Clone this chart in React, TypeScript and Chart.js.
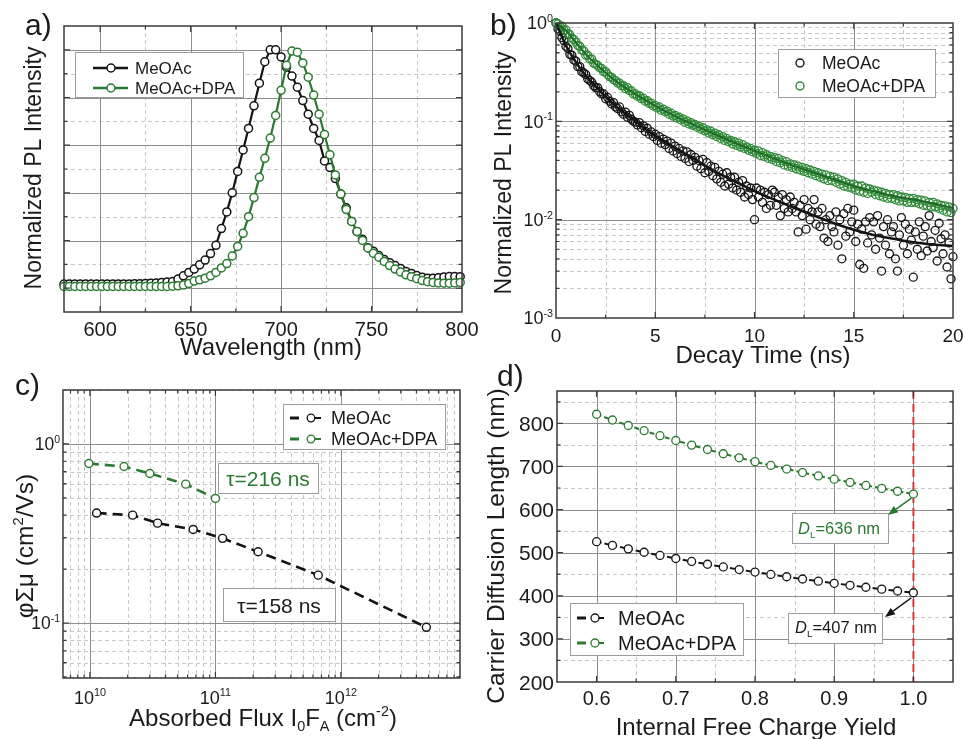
import React, { useEffect, useRef } from 'react';
import { Chart, registerables } from 'chart.js';

Chart.register(...registerables);

// ---------------- data ----------------
// a) PL spectra
const wavelengthNm = [580, 583, 586, 589, 592, 595, 598, 601, 604, 607, 610, 613, 616, 619, 622, 625, 628, 631, 634, 637,
  640, 643, 646, 649, 652, 655, 658, 661, 664, 667, 670, 673, 676, 679, 682, 685, 688, 691, 694, 697,
  700, 703, 706, 709, 712, 715, 718, 721, 724, 727, 730, 733, 736, 739, 742, 745, 748, 751, 754, 757,
  760, 763, 766, 769, 772, 775, 778, 781, 784, 787, 790, 793, 796, 799];
const plMeOAc = [0.017, 0.017, 0.018, 0.017, 0.017, 0.017, 0.017, 0.017, 0.017, 0.017, 0.018, 0.018, 0.018, 0.019, 0.019, 0.020, 0.021, 0.022, 0.024, 0.026,
  0.028, 0.038, 0.052, 0.066, 0.080, 0.098, 0.118, 0.145, 0.180, 0.250, 0.320, 0.400, 0.490, 0.580, 0.670, 0.765, 0.860, 0.950, 1.000, 1.000,
  0.970, 0.927, 0.890, 0.843, 0.787, 0.730, 0.670, 0.620, 0.534, 0.506, 0.460, 0.395, 0.337, 0.280, 0.237, 0.205, 0.170, 0.155, 0.137, 0.120,
  0.107, 0.095, 0.083, 0.070, 0.062, 0.053, 0.046, 0.042, 0.042, 0.044, 0.047, 0.049, 0.049, 0.048];
const plMeOAcDPA = [0.007, 0.007, 0.007, 0.007, 0.007, 0.007, 0.007, 0.007, 0.007, 0.007, 0.007, 0.007, 0.007, 0.007, 0.007, 0.007, 0.007, 0.007, 0.007, 0.007,
  0.008, 0.010, 0.013, 0.020, 0.030, 0.035, 0.042, 0.052, 0.066, 0.085, 0.103, 0.135, 0.175, 0.230, 0.300, 0.380, 0.465, 0.545, 0.630, 0.725,
  0.830, 0.935, 0.995, 0.990, 0.945, 0.885, 0.810, 0.730, 0.645, 0.560, 0.475, 0.395, 0.330, 0.280, 0.238, 0.200, 0.169, 0.147, 0.130, 0.112,
  0.095, 0.080, 0.068, 0.056, 0.048, 0.040, 0.032, 0.027, 0.024, 0.022, 0.021, 0.021, 0.022, 0.024];

// b) PL decay (time base 0 .. 20 ns, 0.1 ns per channel)
const decayTimeStepNs = 0.1;
const decayMeOAc = [
  1.0, 0.87, 0.82, 0.71, 0.66, 0.58, 0.55, 0.48, 0.47, 0.42,
  0.41, 0.36, 0.36, 0.32, 0.31, 0.30, 0.27, 0.26, 0.25, 0.23,
  0.22, 0.22, 0.20, 0.19, 0.19, 0.17, 0.175, 0.16, 0.15, 0.155,
  0.14, 0.135, 0.14, 0.125, 0.118, 0.124, 0.11, 0.115, 0.105, 0.10,
  0.098, 0.092, 0.097, 0.086, 0.090, 0.079, 0.085, 0.074, 0.078, 0.070,
  0.074, 0.064, 0.070, 0.060, 0.066, 0.058, 0.063, 0.053, 0.060, 0.050,
  0.056, 0.047, 0.053, 0.044, 0.050, 0.042, 0.049, 0.039, 0.046, 0.040,
  0.043, 0.035, 0.040, 0.033, 0.041, 0.030, 0.038, 0.031, 0.035, 0.028,
  0.034, 0.026, 0.031, 0.024, 0.029, 0.022, 0.030, 0.023, 0.027, 0.021,
  0.027, 0.020, 0.024, 0.019, 0.025, 0.017, 0.022, 0.018, 0.021, 0.016,
  0.010, 0.021, 0.017, 0.020, 0.015, 0.019, 0.013, 0.018, 0.014, 0.020,
  0.019, 0.014, 0.017, 0.011, 0.018, 0.013, 0.016, 0.012, 0.017, 0.013,
  0.015, 0.012, 0.0075, 0.014, 0.011, 0.016, 0.0080, 0.013, 0.010, 0.012,
  0.016, 0.0090, 0.012, 0.0085, 0.013, 0.0065, 0.010, 0.0060, 0.011, 0.0085,
  0.0075, 0.012, 0.0055, 0.010, 0.0040, 0.0115, 0.0068, 0.013, 0.0075, 0.0095,
  0.0125, 0.0060, 0.0090, 0.0035, 0.0080, 0.0032, 0.0095, 0.0058, 0.0105, 0.0070,
  0.0095, 0.0050, 0.0110, 0.0065, 0.0030, 0.0085, 0.0055, 0.0100, 0.0045, 0.0075,
  0.0085, 0.0040, 0.0030, 0.0070, 0.0105, 0.0055, 0.0090, 0.0045, 0.0080, 0.0062,
  0.0026, 0.0075, 0.0050, 0.0095, 0.0043, 0.0068, 0.0085, 0.0048, 0.0110, 0.0060,
  0.0052, 0.0078, 0.0038, 0.0092, 0.0064, 0.0045, 0.0070, 0.0033, 0.0058, 0.0025,
  0.0042];
const decayMeOAcDPA = [
  1.0, 0.98, 0.92, 0.93, 0.85, 0.85, 0.78, 0.76, 0.70, 0.68,
  0.64, 0.59, 0.58, 0.53, 0.52, 0.47, 0.47, 0.43, 0.43, 0.39,
  0.38, 0.37, 0.35, 0.345, 0.32, 0.32, 0.30, 0.285, 0.28, 0.265,
  0.26, 0.245, 0.245, 0.23, 0.23, 0.215, 0.22, 0.205, 0.205, 0.19,
  0.19, 0.18, 0.182, 0.17, 0.172, 0.16, 0.162, 0.152, 0.153, 0.143,
  0.145, 0.137, 0.14, 0.13, 0.133, 0.125, 0.127, 0.118, 0.121, 0.113,
  0.115, 0.108, 0.11, 0.103, 0.106, 0.098, 0.101, 0.094, 0.097, 0.091,
  0.093, 0.087, 0.089, 0.083, 0.086, 0.080, 0.082, 0.076, 0.079, 0.073,
  0.076, 0.070, 0.073, 0.067, 0.070, 0.064, 0.067, 0.062, 0.064, 0.059,
  0.062, 0.057, 0.060, 0.055, 0.058, 0.053, 0.055, 0.051, 0.053, 0.049,
  0.051, 0.047, 0.050, 0.045, 0.048, 0.044, 0.046, 0.042, 0.044, 0.041,
  0.043, 0.039, 0.042, 0.038, 0.040, 0.036, 0.039, 0.035, 0.037, 0.034,
  0.036, 0.033, 0.035, 0.032, 0.034, 0.031, 0.033, 0.030, 0.032, 0.029,
  0.031, 0.028, 0.030, 0.027, 0.029, 0.026, 0.0285, 0.025, 0.0275, 0.025,
  0.027, 0.024, 0.026, 0.023, 0.025, 0.022, 0.024, 0.0215, 0.023, 0.021,
  0.023, 0.020, 0.022, 0.0195, 0.022, 0.019, 0.021, 0.0185, 0.0205, 0.019,
  0.020, 0.018, 0.0195, 0.0175, 0.019, 0.017, 0.0185, 0.0165, 0.018, 0.0165,
  0.018, 0.016, 0.0175, 0.0155, 0.017, 0.0155, 0.0168, 0.015, 0.0165, 0.015,
  0.0165, 0.015, 0.016, 0.0145, 0.0158, 0.014, 0.0155, 0.0138, 0.015, 0.0135,
  0.015, 0.0135, 0.0145, 0.013, 0.014, 0.0125, 0.0138, 0.012, 0.0135, 0.0118,
  0.013];
const fitTimeNs = [0, 0.5, 1, 1.5, 2, 3, 4, 5, 6, 7, 8, 9, 10, 11, 12, 13, 14, 15, 16, 17, 18, 19, 20];
const fitMeOAc = [1.0, 0.59, 0.40, 0.29, 0.226, 0.143, 0.100, 0.071, 0.054, 0.041, 0.031, 0.0246, 0.0195, 0.016, 0.0132, 0.011, 0.0092, 0.0079, 0.0070, 0.0064, 0.0059, 0.0056, 0.0054];
const fitMeOAcDPA = [1.0, 0.84, 0.635, 0.483, 0.382, 0.258, 0.189, 0.1435, 0.113, 0.091, 0.074, 0.0605, 0.050, 0.0417, 0.035, 0.030, 0.0257, 0.022, 0.0195, 0.0173, 0.016, 0.0146, 0.0132];

// c) mobility vs absorbed flux
const fluxMeOAc = [1.13e10, 2.19e10, 3.46e10, 6.65e10, 1.14e11, 2.19e11, 6.6e11, 4.8e12];
const mobilityMeOAc = [0.411, 0.40, 0.361, 0.333, 0.297, 0.25, 0.185, 0.0946];
const fluxMeOAcDPA = [9.8e9, 1.87e10, 3.0e10, 5.8e10, 1.0e11];
const mobilityMeOAcDPA = [0.777, 0.748, 0.684, 0.596, 0.496];

// d) diffusion length vs free charge yield
const chargeYield = [0.60, 0.62, 0.64, 0.66, 0.68, 0.70, 0.72, 0.74, 0.76, 0.78, 0.80, 0.82, 0.84, 0.86, 0.88, 0.90, 0.92, 0.94, 0.96, 0.98, 1.00];
const diffLenMeOAc = [525.4, 516.9, 508.8, 501.0, 493.6, 486.5, 479.7, 473.1, 466.9, 460.8, 455.0, 449.5, 444.1, 438.9, 433.9, 429.0, 424.3, 419.8, 415.4, 411.1, 407.0];
const diffLenMeOAcDPA = [821.1, 807.7, 795.0, 782.9, 771.3, 760.2, 749.5, 739.3, 729.5, 720.1, 711.1, 702.3, 693.9, 685.8, 678.0, 670.4, 663.1, 656.0, 649.1, 642.5, 636.0];

// tick labels
const ticksAx = [600, 650, 700, 750, 800];
const ticksBx = [0, 5, 10, 15, 20];
const ticksBy = [0, -1, -2, -3];
const ticksCx = [10, 11, 12];
const ticksCy = [0, -1];
const ticksDx = [0.6, 0.7, 0.8, 0.9, 1.0];
const ticksDy = [200, 300, 400, 500, 600, 700, 800];

// ---------------- styling helpers ----------------
const FONT = '"Liberation Sans", Arial, Helvetica, sans-serif';
const TEXT = '#1b1b1b';
const BLACK = '#141414';
const GREEN = '#2a7a30';
const MAJOR = '#8e8e8e';
const MINOR = '#c8c8c8';
const BORDER = '#3a3a3a';

type Seg = { t: string; s?: 'sub' | 'sup'; i?: boolean };
const segFont = (g: Seg, size: number) => `${g.i ? 'italic ' : ''}${g.s ? size * 0.6 : size}px ${FONT}`;
const txt = (t: string): Seg[] => [{ t }];
const pow10 = (e: number): Seg[] => [{ t: '10' }, { t: String(e), s: 'sup' }];

function richWidth(ctx: any, segs: Seg[], size: number) {
  let w = 0;
  for (const g of segs) { ctx.font = segFont(g, size); w += ctx.measureText(g.t).width; }
  return w;
}
function drawRich(ctx: any, segs: Seg[], x: number, y: number, size: number, color: string, align = 'center', rot = 0) {
  ctx.save();
  ctx.translate(x, y);
  if (rot) ctx.rotate(rot);
  const w = richWidth(ctx, segs, size);
  let cx = align === 'center' ? -w / 2 : align === 'right' ? -w : 0;
  ctx.fillStyle = color;
  ctx.textAlign = 'left';
  ctx.textBaseline = 'alphabetic';
  const base = size * 0.36;
  for (const g of segs) {
    ctx.font = segFont(g, size);
    const dy = g.s === 'sup' ? -size * 0.42 : g.s === 'sub' ? size * 0.24 : 0;
    ctx.fillText(g.t, cx, base + dy);
    cx += ctx.measureText(g.t).width;
  }
  ctx.restore();
}
function circle(ctx: any, x: number, y: number, r: number, stroke: string, fill: string | null, lw: number) {
  ctx.save();
  ctx.beginPath();
  ctx.arc(x, y, r, 0, Math.PI * 2);
  if (fill) { ctx.fillStyle = fill; ctx.fill(); }
  ctx.lineWidth = lw; ctx.strokeStyle = stroke; ctx.stroke();
  ctx.restore();
}
function seg(ctx: any, x0: number, y0: number, x1: number, y1: number, color: string, lw: number) {
  ctx.save();
  ctx.beginPath(); ctx.moveTo(x0, y0); ctx.lineTo(x1, y1);
  ctx.strokeStyle = color; ctx.lineWidth = lw; ctx.stroke();
  ctx.restore();
}
function frame(ctx: any, x: number, y: number, w: number, h: number) {
  ctx.save();
  ctx.fillStyle = '#ffffff'; ctx.fillRect(x, y, w, h);
  ctx.strokeStyle = '#9c9c9c'; ctx.lineWidth = 1; ctx.strokeRect(x + 0.5, y + 0.5, w, h);
  ctx.restore();
}
function arrow(ctx: any, x0: number, y0: number, x1: number, y1: number, color: string) {
  const a = Math.atan2(y1 - y0, x1 - x0);
  const L = 10, W = 4;
  const bx = x1 - L * Math.cos(a), by = y1 - L * Math.sin(a);
  seg(ctx, x0, y0, bx, by, color, 1.5);
  ctx.save();
  ctx.beginPath();
  ctx.moveTo(x1, y1);
  ctx.lineTo(bx + W * Math.sin(a), by - W * Math.cos(a));
  ctx.lineTo(bx - W * Math.sin(a), by + W * Math.cos(a));
  ctx.closePath();
  ctx.fillStyle = color; ctx.fill();
  ctx.restore();
}
function logMinors(e0: number, e1: number) {
  const out: number[] = [];
  for (let e = e0; e <= e1; e++) for (let k = 2; k <= 9; k++) out.push(k * Math.pow(10, e));
  return out;
}

type GridSpec = { xMajor: number[]; xMinor: number[]; yMajor: number[]; yMinor: number[] };

function decor(g: GridSpec, under: ((c: any) => void) | null, over: (c: any) => void) {
  return {
    id: 'decor',
    beforeDatasetsDraw(chart: any) {
      const { ctx, chartArea: a } = chart;
      const x = chart.scales.x, y = chart.scales.y;
      ctx.save();
      ctx.beginPath(); ctx.rect(a.left, a.top, a.right - a.left, a.bottom - a.top); ctx.clip();
      ctx.lineWidth = 1;
      const vline = (v: number) => { const p = Math.round(x.getPixelForValue(v)) + 0.5; ctx.beginPath(); ctx.moveTo(p, a.top); ctx.lineTo(p, a.bottom); ctx.stroke(); };
      const hline = (v: number) => { const p = Math.round(y.getPixelForValue(v)) + 0.5; ctx.beginPath(); ctx.moveTo(a.left, p); ctx.lineTo(a.right, p); ctx.stroke(); };
      ctx.strokeStyle = MINOR; ctx.setLineDash([4, 3]);
      g.xMinor.forEach(vline); g.yMinor.forEach(hline);
      ctx.strokeStyle = MAJOR; ctx.setLineDash([]);
      g.xMajor.forEach(vline); g.yMajor.forEach(hline);
      ctx.restore();
      if (under) under(chart);
    },
    afterDatasetsDraw(chart: any) {
      const { ctx, chartArea: a } = chart;
      const x = chart.scales.x, y = chart.scales.y;
      ctx.save();
      ctx.strokeStyle = BORDER; ctx.lineWidth = 1.5;
      ctx.strokeRect(a.left, a.top, a.right - a.left, a.bottom - a.top);
      ctx.lineWidth = 1.2;
      const xt = (vals: number[], len: number) => vals.forEach((v) => {
        const p = x.getPixelForValue(v);
        if (p <= a.left + 1 || p >= a.right - 1) return;
        ctx.beginPath(); ctx.moveTo(p, a.bottom); ctx.lineTo(p, a.bottom - len);
        ctx.moveTo(p, a.top); ctx.lineTo(p, a.top + len); ctx.stroke();
      });
      const yt = (vals: number[], len: number) => vals.forEach((v) => {
        const p = y.getPixelForValue(v);
        if (p <= a.top + 1 || p >= a.bottom - 1) return;
        ctx.beginPath(); ctx.moveTo(a.left, p); ctx.lineTo(a.left + len, p);
        ctx.moveTo(a.right, p); ctx.lineTo(a.right - len, p); ctx.stroke();
      });
      xt(g.xMajor, 6); xt(g.xMinor, 3.5); yt(g.yMajor, 6); yt(g.yMinor, 3.5);
      ctx.restore();
      over(chart);
    },
  };
}

type Box = { l: number; t: number; r: number; b: number };

function makeConfig(box: Box, W: number, H: number, xOpts: any, yOpts: any, datasets: any[], plugin: any) {
  const hidden = { ticks: { display: false }, grid: { display: false, drawTicks: false }, border: { display: false }, title: { display: false } };
  return {
    type: 'scatter',
    data: { datasets },
    options: {
      animation: false,
      responsive: false,
      devicePixelRatio: 1,
      events: [],
      layout: { autoPadding: false, padding: { left: 0, top: box.t, right: W - box.r, bottom: 0 } },
      plugins: { legend: { display: false }, tooltip: { enabled: false }, title: { display: false } },
      scales: {
        x: { ...xOpts, ...hidden, position: 'bottom', afterFit: (s: any) => { s.height = H - box.b; } },
        y: { ...yOpts, ...hidden, position: 'left', afterFit: (s: any) => { s.width = box.l; } },
      },
    },
    plugins: [plugin],
  };
}

// ---------------- panels ----------------
function buildA() {
  const box = { l: 64, t: 26, r: 462, b: 312 };
  const lineSet = (label: string, ys: number[], color: string, order: number) => ({
    label, order, showLine: true, clip: false,
    data: wavelengthNm.map((x, i) => ({ x, y: ys[i] })),
    borderColor: color, borderWidth: 2.2,
    pointRadius: 4, pointBorderWidth: 1.5, pointBorderColor: color, pointBackgroundColor: '#ffffff',
  });
  const datasets = [lineSet('MeOAc+DPA', plMeOAcDPA, GREEN, 0), lineSet('MeOAc', plMeOAc, BLACK, 1)];
  const grid = {
    xMajor: [600, 650, 700, 750], xMinor: [625, 675, 725, 775],
    yMajor: [0, 0.2, 0.4, 0.6, 0.8, 1.0], yMinor: [0.1, 0.3, 0.5, 0.7, 0.9],
  };
  const over = (chart: any) => {
    const ctx = chart.ctx; const x = chart.scales.x;
    ticksAx.forEach((v) => drawRich(ctx, txt(String(v)), x.getPixelForValue(v), 328.5, 20, TEXT));
    drawRich(ctx, txt('Wavelength (nm)'), 271, 346, 24, TEXT);
    drawRich(ctx, txt('Normalized PL Intensity'), 32.5, 168, 23, TEXT, 'center', -Math.PI / 2);
    frame(ctx, 75, 52, 168, 45);
    const rows = [{ y: 68, c: BLACK, l: 'MeOAc' }, { y: 88, c: GREEN, l: 'MeOAc+DPA' }];
    rows.forEach((r) => {
      seg(ctx, 93, r.y, 128, r.y, r.c, 2.5);
      circle(ctx, 111, r.y, 4, r.c, '#ffffff', 1.5);
      drawRich(ctx, txt(r.l), 135, r.y, 17, TEXT, 'left');
    });
  };
  return makeConfig(box, 480, 370, { type: 'linear', min: 580, max: 800 }, { type: 'linear', min: -0.1, max: 1.1 }, datasets, decor(grid, null, over));
}

function buildB() {
  const box = { l: 76, t: 23, r: 473, b: 318 };
  const pts = (label: string, ys: number[], color: string, order: number) => ({
    label, order, showLine: false, clip: false,
    data: ys.map((y, i) => ({ x: +(i * decayTimeStepNs).toFixed(1), y })),
    pointRadius: 4, pointBorderWidth: 1.3, pointBorderColor: color, pointBackgroundColor: 'rgba(0,0,0,0)',
  });
  const fit = (label: string, ys: number[], color: string, order: number, w: number) => ({
    label, order, showLine: true, clip: false, cubicInterpolationMode: 'monotone',
    data: fitTimeNs.map((x, i) => ({ x, y: ys[i] })),
    borderColor: color, borderWidth: w, pointRadius: 0,
  });
  const datasets = [
    fit('MeOAc fit', fitMeOAc, BLACK, 0, 2.6),
    fit('MeOAc+DPA fit', fitMeOAcDPA, '#1f6a27', 1, 2),
    pts('MeOAc+DPA', decayMeOAcDPA, '#2f8a38', 2),
    pts('MeOAc', decayMeOAc, BLACK, 3),
  ];
  const grid = {
    xMajor: [5, 10, 15], xMinor: [2.5, 7.5, 12.5, 17.5],
    yMajor: [0.01, 0.1], yMinor: logMinors(-3, -1),
  };
  const over = (chart: any) => {
    const ctx = chart.ctx; const x = chart.scales.x; const y = chart.scales.y;
    ticksBx.forEach((v) => drawRich(ctx, txt(String(v)), x.getPixelForValue(v), 335, 19, TEXT));
    ticksBy.forEach((e) => drawRich(ctx, pow10(e), 73, y.getPixelForValue(Math.pow(10, e)), 18, TEXT, 'right'));
    drawRich(ctx, txt('Decay Time (ns)'), 283, 354, 24, TEXT);
    drawRich(ctx, txt('Normalized PL Intensity'), 23, 173, 23, TEXT, 'center', -Math.PI / 2);
    frame(ctx, 298, 49, 157, 48);
    const rows = [{ y: 63, c: BLACK, l: 'MeOAc' }, { y: 86, c: '#2f8a38', l: 'MeOAc+DPA' }];
    rows.forEach((r) => {
      circle(ctx, 320, r.y, 4, r.c, null, 1.4);
      drawRich(ctx, txt(r.l), 342, r.y, 17.5, TEXT, 'left');
    });
  };
  return makeConfig(box, 485, 370, { type: 'linear', min: 0, max: 20 }, { type: 'logarithmic', min: 0.001, max: 1 }, datasets, decor(grid, null, over));
}

function buildC() {
  const box = { l: 63, t: 20, r: 460, b: 308 };
  const set = (label: string, xs: number[], ys: number[], color: string, order: number) => ({
    label, order, showLine: true, clip: false,
    data: xs.map((x, i) => ({ x, y: ys[i] })),
    borderColor: color, borderWidth: 2.6, borderDash: [10, 6],
    pointRadius: 4, pointBorderWidth: 1.4, pointBorderColor: color, pointBackgroundColor: '#ffffff',
  });
  const datasets = [
    set('MeOAc+DPA', fluxMeOAcDPA, mobilityMeOAcDPA, GREEN, 0),
    set('MeOAc', fluxMeOAc, mobilityMeOAc, BLACK, 1),
  ];
  const grid = {
    xMajor: [1e10, 1e11, 1e12], xMinor: logMinors(9, 12),
    yMajor: [0.1, 1], yMinor: logMinors(-2, 0),
  };
  const over = (chart: any) => {
    const ctx = chart.ctx; const x = chart.scales.x; const y = chart.scales.y;
    ticksCx.forEach((e) => drawRich(ctx, pow10(e), x.getPixelForValue(Math.pow(10, e)), 327.5, 18, TEXT));
    ticksCy.forEach((e) => drawRich(ctx, pow10(e), 60, y.getPixelForValue(Math.pow(10, e)), 17.5, TEXT, 'right'));
    drawRich(ctx, [{ t: 'Absorbed Flux I' }, { t: '0', s: 'sub' }, { t: 'F' }, { t: 'A', s: 'sub' }, { t: ' (cm' }, { t: '-2', s: 'sup' }, { t: ')' }], 263, 347, 24, TEXT);
    drawRich(ctx, [{ t: 'φΣμ (cm' }, { t: '2', s: 'sup' }, { t: '/Vs)' }], 24, 176, 24.5, TEXT, 'center', -Math.PI / 2);
    // legend
    frame(ctx, 283, 34, 162, 45);
    const rows = [{ y: 48, c: BLACK, l: 'MeOAc' }, { y: 69, c: GREEN, l: 'MeOAc+DPA' }];
    rows.forEach((r) => {
      seg(ctx, 290, r.y, 299, r.y, r.c, 3);
      seg(ctx, 314, r.y, 321, r.y, r.c, 2);
      circle(ctx, 311, r.y, 3.8, r.c, '#ffffff', 1.3);
      drawRich(ctx, txt(r.l), 331, r.y, 18, TEXT, 'left');
    });
    // lifetimes
    frame(ctx, 218, 93, 100, 30);
    drawRich(ctx, txt('τ=216 ns'), 268, 108, 21, GREEN);
    frame(ctx, 223, 218, 112, 33);
    drawRich(ctx, txt('τ=158 ns'), 279, 235, 21, TEXT);
  };
  return makeConfig(box, 480, 369, { type: 'logarithmic', min: 6.1e9, max: 8.9e12 }, { type: 'logarithmic', min: 0.0493, max: 2.0 }, datasets, decor(grid, null, over));
}

function buildD() {
  const box = { l: 77, t: 21, r: 473, b: 312 };
  const set = (label: string, ys: number[], color: string, order: number) => ({
    label, order, showLine: true, clip: false,
    data: chargeYield.map((x, i) => ({ x, y: ys[i] })),
    borderColor: color, borderWidth: 2, borderDash: [5, 3],
    pointRadius: 4, pointBorderWidth: 1.3, pointBorderColor: color, pointBackgroundColor: '#ffffff',
  });
  const datasets = [set('MeOAc+DPA', diffLenMeOAcDPA, GREEN, 0), set('MeOAc', diffLenMeOAc, BLACK, 1)];
  const grid = {
    xMajor: [0.6, 0.7, 0.8, 0.9, 1.0], xMinor: [0.65, 0.75, 0.85, 0.95],
    yMajor: [300, 400, 500, 600, 700, 800], yMinor: [250, 350, 450, 550, 650, 750, 850],
  };
  const under = (chart: any) => {
    const { ctx, chartArea: a } = chart; const x = chart.scales.x;
    const p = x.getPixelForValue(1.0);
    ctx.save();
    ctx.strokeStyle = '#e0383a'; ctx.lineWidth = 2; ctx.setLineDash([8, 5]);
    ctx.beginPath(); ctx.moveTo(p, a.top); ctx.lineTo(p, a.bottom); ctx.stroke();
    ctx.restore();
  };
  const over = (chart: any) => {
    const ctx = chart.ctx; const x = chart.scales.x; const y = chart.scales.y;
    ticksDx.forEach((v) => drawRich(ctx, txt(v.toFixed(1)), x.getPixelForValue(v), 327.5, 20, TEXT));
    ticksDy.forEach((v) => drawRich(ctx, txt(String(v)), 74, y.getPixelForValue(v), 21, TEXT, 'right'));
    drawRich(ctx, txt('Internal Free Charge Yield'), 276, 356, 24, TEXT);
    drawRich(ctx, txt('Carrier Diffusion Length (nm)'), 15, 176, 24.5, TEXT, 'center', -Math.PI / 2);
    // legend
    frame(ctx, 90, 233, 173, 52);
    const rows = [{ y: 248, c: BLACK, l: 'MeOAc' }, { y: 273, c: GREEN, l: 'MeOAc+DPA' }];
    rows.forEach((r) => {
      seg(ctx, 97, r.y, 106, r.y, r.c, 3);
      seg(ctx, 118, r.y, 124, r.y, r.c, 2);
      circle(ctx, 115, r.y, 4, r.c, '#ffffff', 1.3);
      drawRich(ctx, txt(r.l), 138, r.y, 20, TEXT, 'left');
    });
    // D_L annotations
    const px = x.getPixelForValue(1.0);
    const pG = y.getPixelForValue(diffLenMeOAcDPA[diffLenMeOAcDPA.length - 1]);
    const pB = y.getPixelForValue(diffLenMeOAc[diffLenMeOAc.length - 1]);
    arrow(ctx, px - 2, pG + 4, 408, 145, GREEN);
    arrow(ctx, px - 2, pB + 5, 405, 247, BLACK);
    frame(ctx, 312, 143, 96, 30);
    drawRich(ctx, [{ t: 'D', i: true }, { t: 'L', s: 'sub' }, { t: '=636 nm' }], 318, 158, 16.5, GREEN, 'left');
    frame(ctx, 308, 243, 94, 30);
    drawRich(ctx, [{ t: 'D', i: true }, { t: 'L', s: 'sub' }, { t: '=407 nm' }], 315, 257, 16.5, TEXT, 'left');
  };
  return makeConfig(box, 485, 369, { type: 'linear', min: 0.55, max: 1.05 }, { type: 'linear', min: 200, max: 875 }, datasets, decor(grid, under, over));
}

// ---------------- components ----------------
function ChartPanel({ left, top, width, height, build }: any) {
  const ref = useRef<HTMLCanvasElement>(null);
  useEffect(() => {
    const chart = new Chart(ref.current as any, build());
    return () => chart.destroy();
  }, []);
  return <canvas ref={ref} width={width} height={height} style={{ position: 'absolute', left, top, width, height }} />;
}

function PanelLabel({ text, left, baseline }: any) {
  return (
    <div style={{ position: 'absolute', left, top: baseline - 25.4, fontFamily: FONT, fontSize: 30, lineHeight: '30px', color: TEXT, whiteSpace: 'nowrap' }}>
      {text}
    </div>
  );
}

export default function App() {
  return (
    <div style={{ position: 'absolute', left: 0, top: 0, width: 965, height: 739, background: '#ffffff', overflow: 'hidden' }}>
      <ChartPanel left={0} top={0} width={480} height={370} build={buildA} />
      <ChartPanel left={480} top={0} width={485} height={370} build={buildB} />
      <ChartPanel left={0} top={370} width={480} height={369} build={buildC} />
      <ChartPanel left={480} top={370} width={485} height={369} build={buildD} />
      <PanelLabel text="a)" left={25} baseline={35} />
      <PanelLabel text="b)" left={490} baseline={35} />
      <PanelLabel text="c)" left={15} baseline={395} />
      <PanelLabel text="d)" left={497} baseline={386} />
    </div>
  );
}
